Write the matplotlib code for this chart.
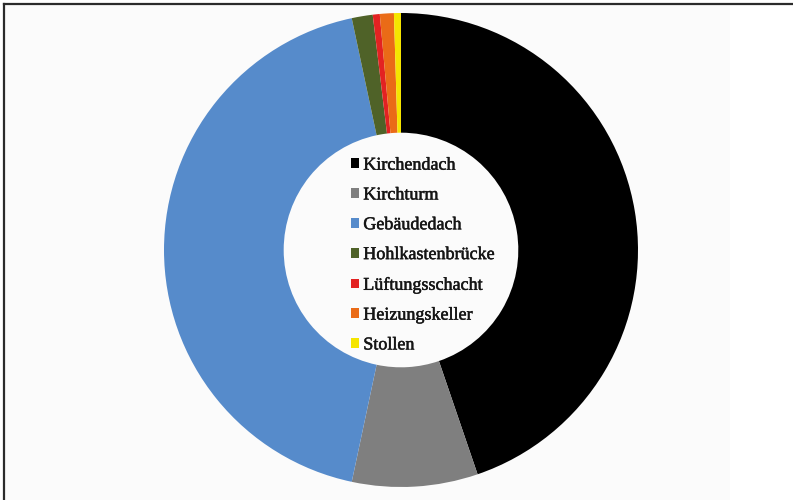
import matplotlib
matplotlib.use("Agg")
import matplotlib.pyplot as plt
import matplotlib.patheffects as pe
from matplotlib.patches import Rectangle

# Counts per location type
locations = ["Kirchendach", "Kirchturm", "Gebäudedach", "Hohlkastenbrücke",
             "Lüftungsschacht", "Heizungskeller", "Stollen"]
counts = [94, 18, 91, 3, 1, 2, 1]
colors = ["#000000", "#7f7f7f", "#568bcb", "#4f6228", "#e32222", "#ea6b17", "#f5e500"]

W, H = 793, 500
fig = plt.figure(figsize=(W / 100, H / 100), dpi=100)
fig.patch.set_facecolor("white")

# light panel and the frame lines on top / left
fig.add_artist(Rectangle((4 / W, 0), 726 / W, 1 - 4 / H, transform=fig.transFigure,
                         facecolor="#fbfbfb", edgecolor="none", zorder=0))
fig.add_artist(plt.Line2D([4 / W, 1], [1 - 4 / H, 1 - 4 / H], transform=fig.transFigure,
                          color="#2b2b2b", lw=1.6))
fig.add_artist(plt.Line2D([4 / W, 4 / W], [0, 1 - 4 / H], transform=fig.transFigure,
                          color="#2b2b2b", lw=1.6))

cx, cy, r = 401, 250, 237
ax = fig.add_axes([(cx - r) / W, (H - cy - r) / H, 2 * r / W, 2 * r / H])
wedges, _ = ax.pie(counts, colors=colors, startangle=90, counterclock=False,
                   radius=1.0, wedgeprops=dict(width=0.505, edgecolor="none"))
ax.set_aspect("equal")
ax.set_xlim(-1, 1)
ax.set_ylim(-1, 1)
ax.axis("off")

# legend sits inside the hole of the ring
leg = ax.legend(wedges, locations, loc="upper left",
                bbox_to_anchor=(338 / W, 1 - 144 / H), bbox_transform=fig.transFigure,
                frameon=False, handlelength=0.45, handleheight=0.45,
                handletextpad=0.25, labelspacing=0.71, borderpad=0.2,
                prop=dict(family="Liberation Serif", size=13))
for t in leg.get_texts():
    t.set_color("#151515")
    t.set_path_effects([pe.withStroke(linewidth=0.35, foreground="#151515")])

fig.savefig("out.png", dpi=100)
